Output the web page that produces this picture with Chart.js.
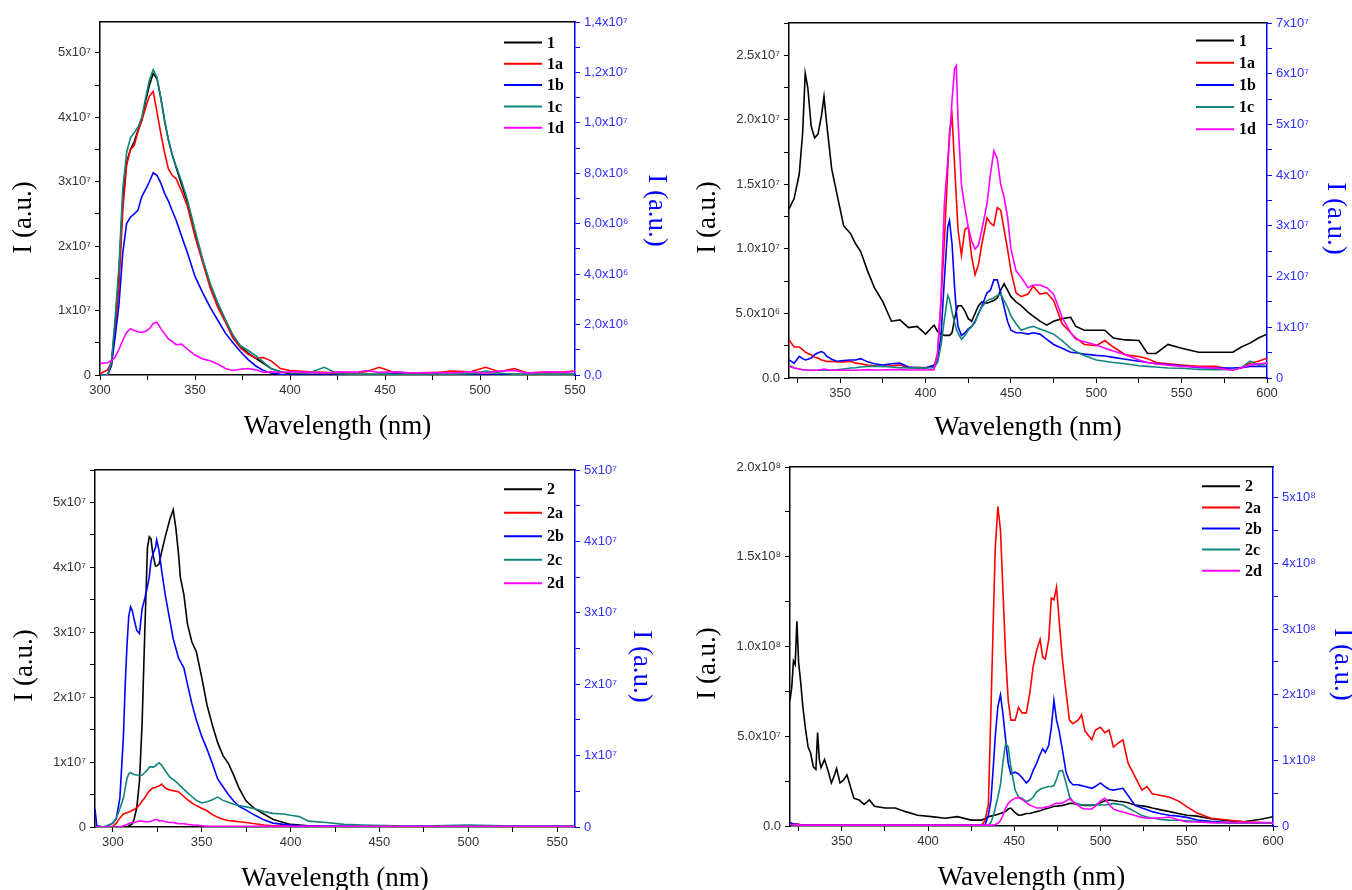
<!DOCTYPE html>
<html>
<head>
<meta charset="utf-8">
<script src="https://cdn.jsdelivr.net/npm/chart.js@4.4.1/dist/chart.umd.min.js"></script>
<style>
  body { margin: 0; background: #fff; width: 1352px; height: 890px; position: relative; overflow: hidden; }
  canvas { position: absolute; }
</style>
</head>
<body>
<canvas id="c1" width="676" height="445" style="left:0;top:0"></canvas>
<canvas id="c2" width="676" height="445" style="left:676px;top:0"></canvas>
<canvas id="c3" width="676" height="445" style="left:0;top:445px"></canvas>
<canvas id="c4" width="676" height="445" style="left:676px;top:445px"></canvas>
<script>
// --- top left: compound 1 series, intensity in units of 1e7 ---
const wlA = [300,304,306,308,310,312,314,316,318,320,322,324,326,328,330,332,334,336,338,340,343,346,350,354,358,362,366,370,374,378,382,386,390,395,400,410,418,425,435,440,447,455,465,475,485,495,503,510,518,525,535,545,550];
const a1  = [0,0,0.15,0.8,1.6,2.75,3.3,3.5,3.62,3.8,3.96,4.25,4.5,4.68,4.6,4.3,3.95,3.65,3.42,3.23,2.95,2.68,2.2,1.78,1.4,1.1,0.85,0.6,0.44,0.34,0.26,0.18,0.1,0.05,0.02,0.01,0.01,0.01,0.01,0.01,0.01,0.01,0.01,0.01,0.01,0.01,0.01,0.01,0.01,0.01,0.01,0.01,0.01];
const a1a = [0.02,0.08,0.2,0.7,1.4,2.55,3.25,3.5,3.56,3.78,3.95,4.15,4.33,4.4,4.08,3.75,3.45,3.2,3.1,3.05,2.85,2.62,2.15,1.75,1.35,1.05,0.82,0.57,0.42,0.32,0.26,0.27,0.22,0.1,0.07,0.05,0.04,0.03,0.04,0.05,0.12,0.04,0.03,0.03,0.06,0.05,0.12,0.05,0.1,0.03,0.04,0.05,0.06];
const a1b = [0,0,0.15,0.6,1.1,1.9,2.35,2.45,2.5,2.56,2.77,2.88,3.0,3.14,3.1,2.98,2.82,2.7,2.55,2.41,2.15,1.9,1.53,1.28,1.05,0.85,0.65,0.5,0.36,0.24,0.14,0.07,0.03,0.01,0,0,0,0,0,0,0,0.02,0,0,0,0,0,0,0,0,0,0,0.01];
const a1c = [0,0,0.2,0.9,1.7,2.9,3.45,3.68,3.76,3.85,4.0,4.3,4.58,4.74,4.62,4.3,3.95,3.65,3.42,3.25,3.0,2.72,2.25,1.8,1.42,1.12,0.86,0.62,0.45,0.38,0.3,0.2,0.1,0.05,0.03,0.03,0.12,0.02,0.01,0.01,0.01,0.01,0.01,0.01,0.01,0.02,0.06,0.03,0.01,0.01,0.01,0.01,0.01];
const a1d = [0.18,0.19,0.22,0.28,0.4,0.54,0.66,0.72,0.69,0.67,0.66,0.68,0.72,0.8,0.82,0.72,0.64,0.56,0.52,0.47,0.48,0.4,0.31,0.25,0.22,0.17,0.1,0.07,0.09,0.1,0.08,0.04,0.05,0.04,0.05,0.04,0.03,0.05,0.04,0.07,0.04,0.05,0.03,0.04,0.03,0.05,0.03,0.06,0.07,0.03,0.05,0.04,0.06];
const namesA = ['1', '1a', '1b', '1c', '1d'];

// --- top right: compound 1 series, intensity in units of 1e6 ---
const wlB = [320,323,326,328,329.5,331,333,335,337,339,340.5,342,345,348,352,356,359,362,366,370,375,380,385,390,395,400,405,407,409,411,413,414,415.5,417,418,419,421,423,425,427,429,431,433,436,438,440,442,444,446,448,450,453,456,460,463,467,471,475,480,485,488,493,500,505,510,517,525,530,535,542,550,560,570,580,585,590,595,600];
const b1  = [13.1,13.9,15.8,19.0,23.6,22.5,19.5,18.6,18.9,20.3,21.8,19.8,16.2,14.3,11.8,11.2,10.4,9.8,8.3,7.0,5.9,4.4,4.5,3.9,4.0,3.4,4.1,3.6,3.4,3.3,3.3,3.3,3.5,4.6,5.2,5.6,5.6,5.2,4.6,4.4,5.0,5.6,5.9,5.8,5.9,6.0,6.2,6.8,7.3,6.8,6.3,5.9,5.6,5.1,4.8,4.4,4.1,4.4,4.6,4.7,4.0,3.7,3.7,3.7,3.1,2.95,2.9,1.9,1.9,2.6,2.3,2.0,2.0,2.0,2.4,2.7,3.1,3.4];
const b1a = [2.95,2.4,2.4,2.2,2.0,1.9,1.8,1.6,1.55,1.4,1.35,1.28,1.3,1.25,1.25,1.3,1.15,1.1,1.0,0.95,0.9,0.95,1.0,0.8,0.8,0.8,0.9,1.9,5.8,10.6,16.2,19.0,20.3,16.5,14.0,11.5,9.5,11.5,11.7,9.4,8.0,8.8,10.4,12.4,12.0,11.8,13.2,13.0,11.5,10.0,8.3,6.6,6.3,6.5,7.1,6.5,6.6,6.0,4.2,3.5,3.1,2.6,2.5,2.9,2.4,1.8,1.66,1.5,1.2,1.1,1.0,0.9,0.9,0.64,0.8,1.15,1.3,1.53];
const b1b = [1.4,1.15,1.67,1.5,1.4,1.45,1.54,1.8,1.95,2.05,1.95,1.7,1.45,1.3,1.35,1.4,1.4,1.5,1.25,1.1,1.0,1.1,1.15,0.85,0.8,0.77,1.0,1.3,3.2,7.6,11.7,12.2,10.4,7.0,5.2,4.0,3.3,3.5,3.8,4.0,4.4,5.0,5.6,6.6,6.8,7.6,7.6,6.6,5.5,4.4,3.7,3.5,3.5,3.4,3.5,3.4,3.0,2.6,2.3,2.0,1.95,1.85,1.75,1.7,1.6,1.45,1.3,1.2,1.1,1.05,0.95,0.8,0.77,0.77,0.8,0.9,0.9,0.9];
const b1c = [1.0,0.77,0.7,0.64,0.64,0.62,0.6,0.6,0.6,0.62,0.6,0.6,0.6,0.64,0.7,0.77,0.8,0.85,0.9,0.9,0.9,0.85,0.8,0.77,0.8,0.77,0.8,1.2,2.5,4.5,6.4,6.1,5.1,4.3,3.8,3.5,3.0,3.3,3.7,4.0,4.3,5.0,5.5,6.0,6.1,6.2,6.4,6.5,6.0,5.5,4.8,4.2,3.7,3.9,4.0,3.8,3.6,3.4,2.9,2.3,2.05,1.75,1.4,1.3,1.2,1.1,0.95,0.9,0.85,0.77,0.75,0.66,0.64,0.66,0.8,1.3,1.0,1.15];
const b1d = [0.9,0.77,0.7,0.64,0.62,0.6,0.6,0.6,0.62,0.65,0.7,0.65,0.6,0.6,0.62,0.6,0.6,0.62,0.65,0.62,0.62,0.65,0.65,0.62,0.62,0.62,0.65,1.9,6.0,13.5,16.8,18.5,21.5,24.0,24.2,20.0,15.0,13.2,11.7,10.6,10.0,10.3,11.5,13.5,15.8,17.6,17.0,15.0,14.0,12.5,10.0,8.3,7.8,7.0,7.2,7.2,7.0,6.5,4.7,3.5,3.0,2.8,2.55,2.3,2.1,1.8,1.4,1.2,1.1,1.0,0.9,0.85,0.77,0.6,0.8,1.0,1.1,1.15];

// --- bottom left: compound 2 series, intensity in units of 1e7 ---
const wlC = [290,291,295,298,300,302,304,306,307,308,309,310,311,312,313.5,315,316.5,318,319.5,320.5,321.5,322.5,324,324.7,326,327.5,329.5,332,334,335.5,337,338,340,342,344.5,347,350,353,356,359,362,365,368,371,375,380,385,390,396,400,405,410,420,430,440,460,480,500,520,540,560];
const c2  = [0,0,0,0,0,0,0,0,0,0,0.02,0.03,0.05,0.12,0.3,0.7,1.6,3.0,4.3,4.47,4.44,4.21,4.02,4.02,4.05,4.24,4.47,4.73,4.89,4.6,4.2,3.85,3.58,3.13,2.85,2.7,2.31,1.88,1.57,1.3,1.1,0.98,0.8,0.6,0.4,0.28,0.2,0.12,0.07,0.04,0.03,0.02,0.01,0.01,0.01,0.01,0.01,0.01,0.01,0.01,0.01];
const c2a = [0,0,0,0,0.01,0.06,0.14,0.2,0.21,0.22,0.23,0.24,0.26,0.27,0.3,0.34,0.4,0.45,0.52,0.55,0.58,0.6,0.61,0.62,0.63,0.66,0.6,0.57,0.56,0.55,0.54,0.52,0.47,0.42,0.37,0.33,0.29,0.25,0.19,0.15,0.12,0.1,0.09,0.08,0.07,0.05,0.03,0.02,0.02,0.01,0.01,0.01,0,0,0,0,0,0,0,0,0];
const c2b = [0.28,0.02,0,0.03,0.06,0.13,0.45,1.4,2.2,2.8,3.25,3.39,3.33,3.2,3.03,2.98,3.36,3.52,3.7,3.85,4.1,4.2,4.3,4.42,4.26,3.95,3.58,3.2,2.9,2.75,2.6,2.55,2.45,2.2,1.9,1.65,1.4,1.2,0.98,0.74,0.62,0.5,0.4,0.32,0.26,0.18,0.11,0.06,0.04,0.03,0.02,0.01,0.01,0.01,0,0,0,0,0,0,0];
const c2c = [0,0,0,0.03,0.06,0.14,0.28,0.45,0.6,0.75,0.82,0.84,0.82,0.81,0.8,0.79,0.8,0.84,0.88,0.92,0.93,0.92,0.94,0.96,0.99,0.95,0.87,0.77,0.73,0.7,0.66,0.63,0.58,0.53,0.47,0.41,0.37,0.39,0.42,0.46,0.41,0.38,0.35,0.33,0.31,0.28,0.24,0.21,0.2,0.18,0.16,0.09,0.07,0.04,0.03,0.02,0.02,0.03,0.02,0.02,0.02];
const c2d = [0,0,0,0,0,0,0,0.02,0.03,0.04,0.05,0.06,0.07,0.07,0.08,0.09,0.09,0.08,0.08,0.08,0.09,0.1,0.11,0.12,0.09,0.1,0.08,0.07,0.07,0.06,0.05,0.05,0.05,0.04,0.03,0.03,0.02,0.01,0.01,0.01,0.01,0.01,0.01,0.01,0.01,0.01,0.01,0.01,0.01,0.01,0.01,0.01,0.01,0.01,0.01,0.01,0.01,0.01,0.01,0.01,0.01];
const namesC = ['2', '2a', '2b', '2c', '2d'];

// --- bottom right: compound 2 series, intensity in units of 1e7 ---
const wlD = [320,321,322,323,324,325,326,327.5,329,330.5,332,333.5,335,336,337,338,340,342,344,346,347,349,351,353,355,357,360,363,366,369,375,381,387,394,402,410,417,425,431,433,435,436.5,438,439,440.5,442,443.5,445,446.5,448,450.5,452.5,454.5,457,459,461,463,465,466.5,468,470,471.5,473,474.5,476,478,480,482,484,487,489,491,495,497,500,502.5,505,507.5,510,513,516,520,524,527,530,535,540,545,550,556,564,574,583,593,600];
const d2  = [7.0,7.7,9.2,9.0,11.4,9.1,8.2,6.6,5.4,4.4,4.05,3.3,3.15,5.2,3.7,3.25,3.7,3.1,2.4,2.9,3.2,2.4,2.55,2.85,2.2,1.55,1.45,1.2,1.45,1.1,1.0,1.0,0.8,0.6,0.52,0.43,0.52,0.33,0.33,0.4,0.52,0.55,0.6,0.6,0.65,0.7,0.75,0.8,0.95,1.0,0.75,0.6,0.62,0.7,0.7,0.75,0.8,0.85,0.9,0.95,1.0,1.05,1.1,1.1,1.12,1.15,1.2,1.26,1.25,1.2,1.17,1.15,1.15,1.17,1.3,1.4,1.45,1.42,1.38,1.35,1.3,1.17,1.12,1.08,1.0,0.9,0.8,0.7,0.6,0.55,0.4,0.3,0.24,0.38,0.52];
const d2a = [0.15,0.12,0.1,0.1,0.12,0.1,0.08,0.06,0.06,0.06,0.06,0.06,0.06,0.06,0.06,0.06,0.06,0.06,0.06,0.06,0.05,0.05,0.05,0.05,0.05,0.05,0.05,0.05,0.05,0.05,0.05,0.05,0.05,0.05,0.05,0.05,0.05,0.05,0.05,0.3,1.2,6.5,12.0,15.5,17.8,16.5,13.0,9.5,7.0,5.9,5.9,6.6,6.3,6.3,7.4,8.9,9.8,10.4,9.4,9.3,10.4,12.7,12.6,13.3,11.5,9.2,7.5,5.9,5.7,5.9,6.2,5.3,4.8,5.35,5.5,5.2,5.35,4.4,4.6,4.8,3.5,2.75,2.0,2.2,1.8,1.7,1.6,1.4,1.08,0.72,0.43,0.33,0.24,0.19,0.15];
const d2b = [0.2,0.15,0.12,0.1,0.08,0.08,0.06,0.05,0.05,0.05,0.05,0.05,0.05,0.05,0.05,0.05,0.05,0.05,0.05,0.05,0.05,0.05,0.05,0.05,0.05,0.05,0.05,0.05,0.05,0.05,0.05,0.05,0.05,0.05,0.05,0.05,0.05,0.05,0.05,0.05,0.6,1.45,3.5,5.0,6.65,7.3,6.2,4.8,3.5,2.9,3.0,2.9,2.7,2.4,2.6,3.1,3.5,4.0,4.3,4.1,4.5,5.5,7.0,5.9,5.3,4.2,3.0,2.5,2.3,2.3,2.25,2.2,2.1,2.2,2.4,2.2,2.05,2.0,2.05,2.1,1.7,1.15,1.0,0.9,0.8,0.68,0.6,0.55,0.48,0.33,0.26,0.2,0.17,0.15,0.15];
const d2c = [0.08,0.07,0.06,0.05,0.05,0.04,0.04,0.03,0.03,0.03,0.03,0.03,0.03,0.03,0.03,0.03,0.03,0.03,0.03,0.03,0.03,0.03,0.03,0.03,0.03,0.03,0.03,0.03,0.03,0.03,0.03,0.03,0.03,0.03,0.03,0.03,0.03,0.03,0.03,0.03,0.05,0.2,0.6,1.0,1.6,2.3,3.6,4.6,4.4,3.3,2.0,1.6,1.55,1.36,1.45,1.6,1.9,2.05,2.1,2.15,2.2,2.2,2.25,2.6,3.05,3.1,2.4,1.65,1.35,1.22,1.18,1.17,1.17,1.17,1.17,1.17,1.2,1.26,1.22,1.17,1.0,0.8,0.58,0.5,0.45,0.36,0.33,0.32,0.29,0.25,0.2,0.15,0.15,0.15,0.15];
const d2d = [0.1,0.08,0.07,0.06,0.06,0.05,0.05,0.05,0.05,0.05,0.05,0.05,0.05,0.05,0.05,0.05,0.05,0.05,0.05,0.05,0.05,0.05,0.05,0.05,0.05,0.05,0.05,0.05,0.05,0.05,0.05,0.05,0.05,0.05,0.05,0.05,0.05,0.05,0.05,0.05,0.05,0.05,0.05,0.08,0.15,0.3,0.6,1.0,1.25,1.4,1.55,1.58,1.48,1.3,1.17,1.08,1.0,1.0,1.0,1.05,1.08,1.15,1.22,1.26,1.26,1.28,1.4,1.52,1.35,1.15,1.0,0.95,0.95,1.1,1.4,1.55,1.2,0.95,0.85,0.78,0.7,0.58,0.48,0.43,0.43,0.45,0.5,0.35,0.24,0.22,0.19,0.19,0.19,0.19,0.19];

// --- tick values and labels ---
const xTicksA = [300, 350, 400, 450, 500, 550];
const xTicksB = [350, 400, 450, 500, 550, 600];
const yTicksA = [0, 1e7, 2e7, 3e7, 4e7, 5e7];
const yLabelsA = ['0', '1x10⁷', '2x10⁷', '3x10⁷', '4x10⁷', '5x10⁷'];
const rTicksA = [0, 2e6, 4e6, 6e6, 8e6, 1e7, 1.2e7, 1.4e7];
const rLabelsA = ['0,0', '2,0x10⁶', '4,0x10⁶', '6,0x10⁶', '8,0x10⁶', '1,0x10⁷', '1,2x10⁷', '1,4x10⁷'];
const yTicksB = [0, 5e6, 1e7, 1.5e7, 2e7, 2.5e7];
const yLabelsB = ['0.0', '5.0x10⁶', '1.0x10⁷', '1.5x10⁷', '2.0x10⁷', '2.5x10⁷'];
const rTicksB = [0, 1e7, 2e7, 3e7, 4e7, 5e7, 6e7, 7e7];
const rLabelsB = ['0', '1x10⁷', '2x10⁷', '3x10⁷', '4x10⁷', '5x10⁷', '6x10⁷', '7x10⁷'];
const rTicksC = [0, 1e7, 2e7, 3e7, 4e7, 5e7];
const rLabelsC = ['0', '1x10⁷', '2x10⁷', '3x10⁷', '4x10⁷', '5x10⁷'];
const yTicksD = [0, 5e7, 1e8, 1.5e8, 2e8];
const yLabelsD = ['0.0', '5.0x10⁷', '1.0x10⁸', '1.5x10⁸', '2.0x10⁸'];
const rTicksD = [0, 1e8, 2e8, 3e8, 4e8, 5e8];
const rLabelsD = ['0', '1x10⁸', '2x10⁸', '3x10⁸', '4x10⁸', '5x10⁸'];

const xTitle = 'Wavelength (nm)';
const yTitle = 'I (a.u.)';

const SERIF = '"Liberation Serif", "Times New Roman", Times, serif';
const SANS = '"Liberation Sans", Arial, Helvetica, sans-serif';
const lineColors = ['#000000', '#ff0000', '#0000ff', '#0f857c', '#ff00ff'];
const BLUE = '#0000ff';

function tickSet(major, labels, min, max) {
  const step = major[1] - major[0];
  const all = major.slice();
  if (major[0] - step / 2 >= min) all.push(major[0] - step / 2);
  major.forEach(v => { if (v + step / 2 <= max * (1 + 1e-9)) all.push(v + step / 2); });
  all.sort((a, b) => a - b);
  const label = v => {
    const i = major.findIndex(m => Math.abs(m - v) <= Math.abs(step) * 1e-6);
    return i < 0 ? '' : labels[i];
  };
  return { all, label };
}

function axis(pos, min, max, ts, color, tickColor, size) {
  const vertical = pos === 'left' || pos === 'right';
  return {
    type: 'linear', position: pos, min, max, bounds: 'data',
    afterBuildTicks: s => { s.ticks = ts.all.map(v => ({ value: v })); },
    afterFit: s => { if (vertical) s.width = size; else s.height = size; },
    grid: { drawOnChartArea: false, drawTicks: true, tickLength: 5, color, lineWidth: 1 },
    border: { display: true, color, width: 1.5 },
    ticks: {
      autoSkip: false, maxRotation: 0, color: tickColor, padding: vertical ? 4 : 3,
      font: { family: SANS, size: 13 }, callback: v => ts.label(v)
    }
  };
}

// axis titles and the in-plot legend
const decor = {
  id: 'decor',
  afterDraw(chart, args, o) {
    const { ctx, chartArea: a } = chart;
    const midY = (a.top + a.bottom) / 2;
    ctx.save();
    ctx.textAlign = 'center';
    ctx.textBaseline = 'middle';
    ctx.font = '27px ' + SERIF;
    ctx.fillStyle = '#000';
    ctx.fillText(xTitle, (a.left + a.right) / 2, a.bottom + o.xDy);

    ctx.save();
    ctx.translate(a.left + o.lDx, midY + o.lDy);
    ctx.rotate(-Math.PI / 2);
    ctx.fillText(yTitle, 0, 0);
    ctx.restore();

    ctx.save();
    ctx.fillStyle = BLUE;
    ctx.translate(a.right + o.rDx, midY + o.rDy);
    ctx.rotate(Math.PI / 2);
    ctx.fillText(yTitle, 0, 0);
    ctx.restore();

    ctx.font = 'bold 16px ' + SERIF;
    ctx.textAlign = 'left';
    chart.data.datasets.forEach((ds, i) => {
      const y = a.top + o.legTop + i * o.legGap;
      const x1 = a.right - 33;
      ctx.strokeStyle = ds.borderColor;
      ctx.lineWidth = 2;
      ctx.beginPath();
      ctx.moveTo(x1 - 38, y);
      ctx.lineTo(x1, y);
      ctx.stroke();
      ctx.fillStyle = '#000';
      ctx.fillText(ds.label, x1 + 5, y + 1);
    });
    ctx.restore();
  }
};

function makePanel(p) {
  const datasets = p.series.map((ys, i) => ({
    label: p.names[i],
    data: p.wl.map((x, j) => ({ x, y: ys[j] * p.unit })),
    borderColor: lineColors[i],
    borderWidth: 1.6,
    pointRadius: 0,
    tension: 0,
    fill: false,
    order: p.series.length - i,
    xAxisID: 'x', yAxisID: 'y'
  }));
  const xs = tickSet(p.xTicks, p.xTicks.map(String), p.xMin, p.xMax);
  const ls = tickSet(p.yTicks, p.yLabels, 0, p.yMax);
  const rs = tickSet(p.rTicks, p.rLabels, 0, p.rMax);
  new Chart(document.getElementById(p.id), {
    type: 'line',
    data: { datasets },
    options: {
      responsive: false, animation: false, events: [],
      layout: { padding: 0 },
      plugins: { legend: { display: false }, tooltip: { enabled: false }, decor: p.decor },
      scales: {
        x: axis('bottom', p.xMin, p.xMax, xs, '#000', '#333', p.box.b),
        xTop: {
          type: 'linear', position: 'top', min: p.xMin, max: p.xMax, bounds: 'data',
          afterFit: s => { s.height = p.box.t; },
          ticks: { display: false },
          grid: { drawOnChartArea: false, drawTicks: false },
          border: { display: true, color: '#000', width: 1.5 }
        },
        y: axis('left', 0, p.yMax, ls, '#000', '#333', p.box.l),
        y2: axis('right', 0, p.rMax, rs, BLUE, '#2f2fff', p.box.r)
      }
    },
    plugins: [decor]
  });
}

makePanel({
  id: 'c1', wl: wlA, series: [a1, a1a, a1b, a1c, a1d], names: namesA, unit: 1e7,
  xMin: 300, xMax: 550, xTicks: xTicksA,
  yMax: 5.48e7, yTicks: yTicksA, yLabels: yLabelsA,
  rMax: 1.4e7, rTicks: rTicksA, rLabels: rLabelsA,
  box: { l: 100, r: 101, t: 22, b: 70 },
  decor: { xDy: 52, lDx: -76, lDy: 19, rDx: 81, rDy: 12, legTop: 20.5, legGap: 21.3 }
});
makePanel({
  id: 'c2', wl: wlB, series: [b1, b1a, b1b, b1c, b1d], names: namesA, unit: 1e6,
  xMin: 320, xMax: 600, xTicks: xTicksB,
  yMax: 2.75e7, yTicks: yTicksB, yLabels: yLabelsB,
  rMax: 7e7, rTicks: rTicksB, rLabels: rLabelsB,
  box: { l: 113, r: 85, t: 23, b: 67 },
  decor: { xDy: 50, lDx: -81, lDy: 17, rDx: 68, rDy: 18, legTop: 17.5, legGap: 22.2 }
});
makePanel({
  id: 'c3', wl: wlC, series: [c2, c2a, c2b, c2c, c2d], names: namesC, unit: 1e7,
  xMin: 290, xMax: 560, xTicks: xTicksA,
  yMax: 5.5e7, yTicks: yTicksA, yLabels: yLabelsA,
  rMax: 5e7, rTicks: rTicksC, rLabels: rLabelsC,
  box: { l: 95, r: 101, t: 25, b: 63 },
  decor: { xDy: 52, lDx: -70, lDy: 17, rDx: 66, rDy: 18, legTop: 19.3, legGap: 23.5 }
});
makePanel({
  id: 'c4', wl: wlD, series: [d2, d2a, d2b, d2c, d2d], names: namesC, unit: 1e7,
  xMin: 320, xMax: 600, xTicks: xTicksB,
  yMax: 2e8, yTicks: yTicksD, yLabels: yLabelsD,
  rMax: 5.47e8, rTicks: rTicksD, rLabels: rLabelsD,
  box: { l: 114, r: 79, t: 22, b: 64 },
  decor: { xDy: 52, lDx: -82, lDy: 17, rDx: 69, rDy: 18, legTop: 19.3, legGap: 21.1 }
});
</script>
</body>
</html>
